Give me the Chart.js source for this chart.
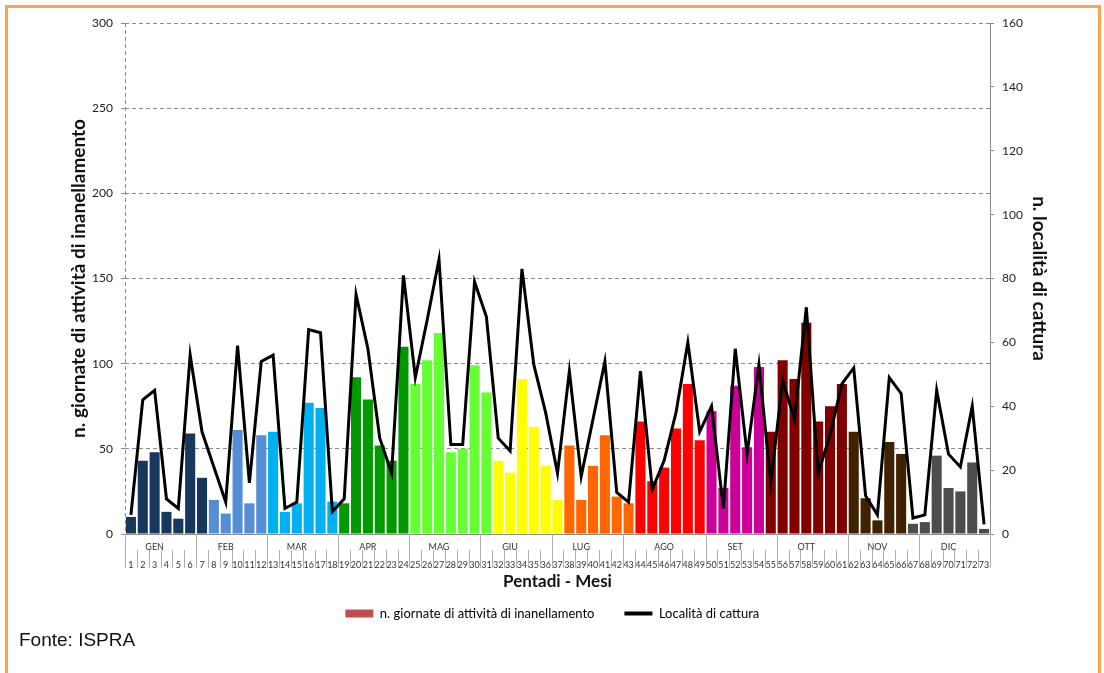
<!DOCTYPE html>
<html>
<head>
<meta charset="utf-8">
<script src="https://cdn.jsdelivr.net/npm/chart.js@4.4.1/dist/chart.umd.min.js"></script>
<style>
  html, body { margin: 0; padding: 0; background: #fff; }
  #wrap { position: relative; width: 1104px; height: 673px; overflow: hidden; }
  #frame { position: absolute; left: 5px; top: 5px; width: 1096px; height: 720px; border: 3px solid #F9A54C; box-sizing: border-box; }
  #chart { position: absolute; left: 0; top: 0; }
  #source { position: absolute; left: 19px; top: 629px; font: 19px "Liberation Sans Narrow", "Liberation Sans", Arial, sans-serif; color: #111; }
</style>
</head>
<body>
<div id="wrap">
  <div id="frame"></div>
  <canvas id="chart" width="1104" height="673"></canvas>
  <div id="source">Fonte: ISPRA</div>
</div>
<script>
// Pentadi 1..73
const pentadi = Array.from({ length: 73 }, (_, i) => String(i + 1));

// n. giornate di attività di inanellamento (asse sinistro)
const giornate = [10, 43, 48, 13, 9, 59, 33, 20, 12, 61,
                  18, 58, 60, 13, 18, 77, 74, 19, 18, 92,
                  79, 52, 43, 110, 88, 102, 118, 48, 50, 99,
                  83, 43, 36, 91, 63, 40, 20, 52, 20, 40,
                  58, 22, 18, 66, 31, 39, 62, 88, 55, 72,
                  27, 87, 51, 98, 60, 102, 91, 124, 66, 75,
                  88, 60, 21, 8, 54, 47, 6, 7, 46, 27,
                  25, 42, 3];

// Località di cattura (asse destro)
const localita = [6, 42, 45, 11, 8, 56, 32, 21, 10, 59,
                  16, 54, 56, 8, 10, 64, 63, 7, 11, 75,
                  58, 30, 19, 81, 49, 67, 86, 28, 28, 79,
                  68, 30, 26, 83, 53, 38, 19, 51, 18, 36,
                  54, 13, 10, 51, 14, 23, 38, 60, 32, 40,
                  8, 58, 25, 53, 16, 48, 36, 71, 19, 31,
                  47, 52, 12, 6, 49, 44, 5, 6, 45, 25,
                  21, 40, 3];

// month labels and the pentad they sit under
const mesi = ['GEN', 'FEB', 'MAR', 'APR', 'MAG', 'GIU', 'LUG', 'AGO', 'SET', 'OTT', 'NOV', 'DIC'];
const mesePentade = [3, 9, 15, 21, 27, 33, 39, 46, 52, 58, 64, 70];
const confiniMese = [6, 12, 18, 24, 30, 36, 42, 49, 55, 61, 67];

const leftTicks = [0, 50, 100, 150, 200, 250, 300];
const rightTicks = [0, 20, 40, 60, 80, 100, 120, 140, 160];

// bar colours: [colour, how many pentads]
const gruppiColore = [
  ['#17375E', 7], ['#558ED5', 5], ['#00B0F0', 6], ['#009900', 6],
  ['#66FF33', 7], ['#FFFF00', 6], ['#FF6600', 6], ['#FF0000', 6],
  ['#CC0099', 5], ['#800000', 7], ['#3F2200', 5], ['#4D4D4D', 7]
];
const coloriBarre = [];
gruppiColore.forEach(([c, n]) => { for (let i = 0; i < n; i++) coloriBarre.push(c); });

const etichettaMese = {};
mesePentade.forEach((p, i) => { etichettaMese[p - 1] = mesi[i]; });

const FONT = 'Lato, "Open Sans", sans-serif';

// category separators under the x axis + dashed left axis line
const axisLines = {
  id: 'axisLines',
  afterDraw(chart) {
    const { ctx, chartArea, scales: { x } } = chart;
    const half = (x.getPixelForValue(1) - x.getPixelForValue(0)) / 2;
    const y0 = chartArea.bottom;
    ctx.save();
    ctx.strokeStyle = '#B0B0B0';
    ctx.lineWidth = 1;
    ctx.beginPath();
    for (let i = 0; i <= pentadi.length; i++) {
      const px = Math.round(x.getPixelForValue(i) - half) + 0.5;
      const lungo = i === 0 || i === pentadi.length || confiniMese.includes(i);
      ctx.moveTo(px, lungo ? y0 : y0 + 16);
      ctx.lineTo(px, y0 + 34);
    }
    ctx.stroke();
    ctx.strokeStyle = '#8C8C8C';
    ctx.setLineDash([4, 3]);
    ctx.beginPath();
    ctx.moveTo(Math.round(chartArea.left) + 0.5, chartArea.top);
    ctx.lineTo(Math.round(chartArea.left) + 0.5, y0);
    ctx.stroke();
    ctx.restore();
  }
};

function drawChart() {
  const ctx = document.getElementById('chart').getContext('2d');
  new Chart(ctx, {
    data: {
      labels: pentadi,
      datasets: [
        {
          type: 'line',
          label: 'Località di cattura',
          data: localita,
          yAxisID: 'y1',
          borderColor: '#000',
          borderWidth: 3,
          pointRadius: 0,
          tension: 0,
          order: 0
        },
        {
          type: 'bar',
          label: 'n. giornate di attività di inanellamento',
          data: giornate,
          yAxisID: 'y',
          backgroundColor: coloriBarre,
          barPercentage: 0.85,
          categoryPercentage: 1.0,
          order: 1
        }
      ]
    },
    options: {
      responsive: false,
      animation: false,
      layout: { padding: { left: 67, right: 53, top: 23, bottom: 43 } },
      plugins: {
        tooltip: { enabled: false },
        legend: {
          position: 'bottom',
          labels: {
            usePointStyle: true,
            pointStyleWidth: 28,
            boxHeight: 8,
            padding: 30,
            color: '#222',
            font: { family: FONT, size: 13 },
            generateLabels: () => [
              { text: 'n. giornate di attività di inanellamento', pointStyle: 'rect', fillStyle: '#C0504D', strokeStyle: '#C0504D', lineWidth: 0, datasetIndex: 1 },
              { text: 'Località di cattura    ', pointStyle: 'line', fillStyle: '#000', strokeStyle: '#000', lineWidth: 4, datasetIndex: 0 }
            ]
          }
        }
      },
      scales: {
        x: {
          type: 'category',
          offset: true,
          grid: { display: false },
          border: { display: true, color: '#8C8C8C' },
          ticks: {
            autoSkip: false,
            maxRotation: 0,
            padding: -3,
            color: '#333',
            font: { family: FONT, size: 9, lineHeight: 1.9 },
            callback: (v, i) => [etichettaMese[i] || '', pentadi[i]]
          },
          title: {
            display: true,
            text: 'Pentadi - Mesi',
            color: '#111',
            font: { family: FONT, size: 17, weight: 'bold' },
            padding: { top: 0, bottom: -15 }
          },
          afterFit(s) { s.height = 43; }
        },
        y: {
          position: 'left',
          min: 0,
          max: 300,
          afterBuildTicks(s) { s.ticks = leftTicks.map(v => ({ value: v })); },
          ticks: { padding: 8, color: '#222', font: { family: FONT, size: 12 } },
          grid: { color: '#8C8C8C', tickColor: '#8C8C8C', tickLength: 4, drawTicks: true },
          border: { display: false, dash: [4, 3] },
          title: {
            display: true,
            text: 'n. giornate di attività di inanellamento',
            color: '#111',
            font: { family: FONT, size: 19, weight: 'bold' },
            padding: { top: 0, bottom: 0 }
          },
          afterFit(s) { s.width = 58; }
        },
        y1: {
          position: 'right',
          min: 0,
          max: 160,
          afterBuildTicks(s) { s.ticks = rightTicks.map(v => ({ value: v })); },
          ticks: { padding: 8, color: '#222', font: { family: FONT, size: 12 } },
          grid: { drawOnChartArea: false, drawTicks: true, tickLength: 4, tickColor: '#8C8C8C' },
          border: { display: true, color: '#8C8C8C' },
          title: {
            display: true,
            text: 'n. località di cattura',
            color: '#111',
            font: { family: FONT, size: 19, weight: 'bold' },
            padding: { top: 0, bottom: 0 }
          },
          afterFit(s) { s.width = 61; }
        }
      }
    },
    plugins: [axisLines]
  });
}

Promise.all([
  document.fonts.load('12px Lato'),
  document.fonts.load('bold 15px Lato'),
  document.fonts.load('19px "Liberation Sans Narrow"')
]).catch(() => {}).finally(drawChart);
</script>
</body>
</html>
